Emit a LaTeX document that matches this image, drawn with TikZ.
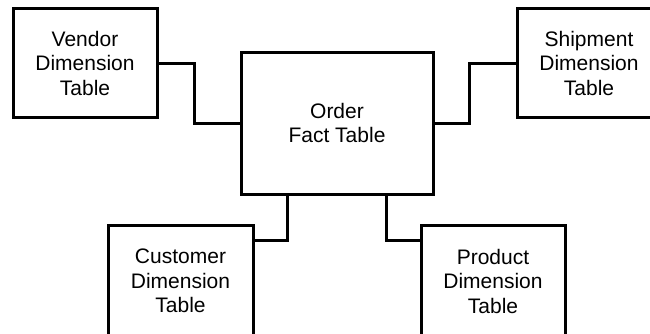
\documentclass[tikz,border=0pt]{standalone}
\usepackage{fontspec}
\setmainfont{Liberation Sans}
\usepackage{tikz}

\begin{document}
\begin{tikzpicture}[x=1pt,y=1pt,line width=3pt,
    tbl/.style={draw,rectangle,align=center,inner sep=0pt,
      font=\fontsize{21}{24.5}\selectfont}]
  \useasboundingbox (0,0) rectangle (650,333);
      \coordinate (V) at (85, 270);
         \coordinate (O) at (337, 210);
           \coordinate (S) at (589, 270);
              \coordinate (C) at (180.5, 52);
                 \coordinate (P) at (493, 52);
  \node[tbl,minimum width=144,minimum height=108] (vendor) at (V) {Vendor\\Dimension\\Table};
  \node[tbl,minimum width=192,minimum height=142] (order) at (O) {Order\\Fact Table};
  \node[tbl,minimum width=144,minimum height=108] (shipment) at (S) {Shipment\\Dimension\\Table};
  \node[tbl,minimum width=145,minimum height=112] (customer) at (C) {Customer\\Dimension\\Table};
  \node[tbl,minimum width=144,minimum height=112] (product) at (P) {Product\\Dimension\\Table};
  \draw (vendor.east) -- ++(36,0) |- (order.west);
  \draw (order.east) -- ++(35,0) |- (shipment.west);
  \draw ([xshift=48pt]order.south west) |- ([yshift=-17pt]customer.north east);
  \draw ([xshift=-48pt]order.south east) |- ([yshift=-17pt]product.north west);
   \end{tikzpicture}
\end{document}
